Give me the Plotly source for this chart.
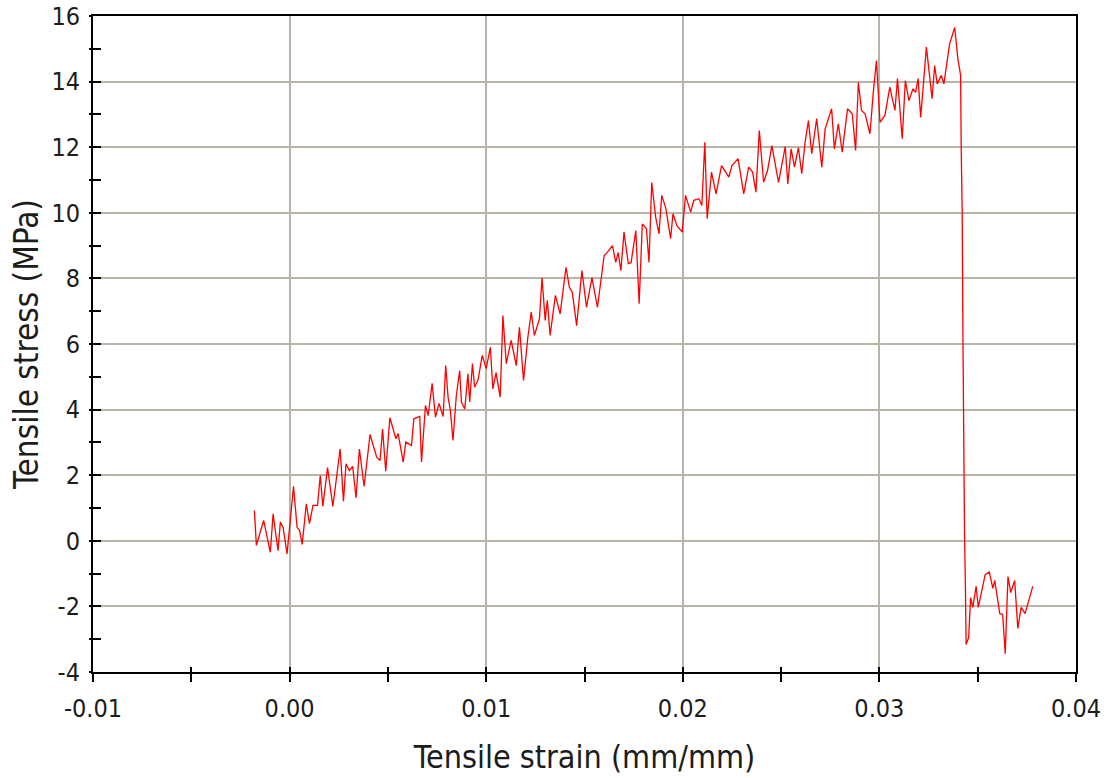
import plotly.graph_objects as go

strain = [
    -0.00179, -0.00169, -0.00132, -0.00098, -0.00084, -0.00059, -0.00047, -0.00033, -0.00013,
    0.00020, 0.00038, 0.00051, 0.00064, 0.00085, 0.00101, 0.00119, 0.00142, 0.00156, 0.00169,
    0.00193, 0.00220, 0.00257, 0.00274, 0.00287, 0.00304, 0.00321, 0.00338, 0.00355, 0.00379,
    0.00409, 0.00443, 0.00460, 0.00473, 0.00489, 0.00510, 0.00541, 0.00552, 0.00578, 0.00591,
    0.00620, 0.00632, 0.00662, 0.00671, 0.00691, 0.00705, 0.00725, 0.00742, 0.00760, 0.00781,
    0.00794, 0.00806, 0.00818, 0.00831, 0.00848, 0.00865, 0.00874, 0.00891, 0.00907, 0.00916,
    0.00930, 0.00941, 0.00958, 0.00980, 0.01000, 0.01021, 0.01034, 0.01050, 0.01071, 0.01085,
    0.01102, 0.01127, 0.01153, 0.01169, 0.01190, 0.01211, 0.01229, 0.01245, 0.01271, 0.01284,
    0.01300, 0.01311, 0.01325, 0.01352, 0.01376, 0.01406, 0.01423, 0.01438, 0.01460, 0.01487,
    0.01510, 0.01538, 0.01566, 0.01600, 0.01617, 0.01642, 0.01659, 0.01671, 0.01685, 0.01701,
    0.01723, 0.01737, 0.01761, 0.01778, 0.01794, 0.01815, 0.01828, 0.01842, 0.01862, 0.01879,
    0.01893, 0.01914, 0.01938, 0.01950, 0.01970, 0.01997, 0.02014, 0.02040, 0.02056, 0.02082,
    0.02097, 0.02112, 0.02124, 0.02146, 0.02169, 0.02197, 0.02217, 0.02234, 0.02250, 0.02281,
    0.02310, 0.02335, 0.02355, 0.02372, 0.02389, 0.02411, 0.02431, 0.02453, 0.02487, 0.02521,
    0.02534, 0.02551, 0.02568, 0.02588, 0.02605, 0.02622, 0.02639, 0.02656, 0.02681, 0.02707,
    0.02724, 0.02757, 0.02771, 0.02791, 0.02811, 0.02838, 0.02862, 0.02879, 0.02893, 0.02909,
    0.02927, 0.02952, 0.02969, 0.02985, 0.03003, 0.03028, 0.03053, 0.03079, 0.03092, 0.03116,
    0.03132, 0.03150, 0.03171, 0.03184, 0.03197, 0.03210, 0.03239, 0.03268, 0.03281, 0.03294,
    0.03315, 0.03328, 0.03357, 0.03383, 0.03399, 0.03413, 0.03416, 0.03421, 0.03425, 0.03428,
    0.03433, 0.03438, 0.03441, 0.03454, 0.03464, 0.03475, 0.03492, 0.03503, 0.03538, 0.03559,
    0.03577, 0.03587, 0.03612, 0.03627, 0.03640, 0.03654, 0.03668, 0.03688, 0.03704, 0.03721,
    0.03741, 0.03780,
]

stress = [
    0.92, -0.14, 0.62, -0.35, 0.82, -0.30, 0.57, 0.41, -0.40,
    1.66, 0.41, 0.31, -0.11, 1.13, 0.52, 1.08, 1.08, 1.99, 1.05,
    2.23, 1.05, 2.80, 1.21, 2.35, 2.14, 2.27, 1.31, 2.80, 1.66,
    3.24, 2.55, 2.45, 3.41, 2.12, 3.75, 3.11, 3.27, 2.40, 3.01,
    2.91, 3.72, 3.79, 2.40, 4.13, 3.82, 4.80, 3.77, 4.19, 3.79,
    5.34, 4.38, 3.97, 3.06, 4.43, 5.19, 4.23, 4.02, 5.09, 4.23,
    5.40, 4.68, 4.89, 5.65, 5.25, 5.90, 4.63, 5.13, 4.38, 6.87,
    5.40, 6.11, 5.34, 6.51, 4.89, 6.16, 6.97, 6.26, 6.77, 8.02,
    6.72, 7.33, 6.26, 7.48, 6.92, 8.34, 7.73, 7.57, 6.56, 8.24,
    7.12, 8.02, 7.12, 8.70, 8.80, 9.00, 8.49, 8.79, 8.24, 9.41,
    8.45, 8.48, 9.46, 7.23, 9.66, 9.51, 8.49, 10.92, 9.87, 9.36,
    10.53, 10.13, 9.21, 9.97, 9.61, 9.41, 10.53, 10.02, 10.38, 10.43,
    10.22, 12.15, 9.82, 11.24, 10.58, 11.44, 11.24, 11.09, 11.44, 11.65,
    10.58, 11.39, 11.24, 10.63, 12.51, 10.93, 11.29, 12.05, 10.93, 12.02,
    10.88, 11.95, 11.39, 11.99, 11.19, 12.15, 12.81, 11.80, 12.87, 11.39,
    12.56, 13.17, 11.95, 12.71, 11.85, 13.17, 13.02, 11.90, 13.98, 13.12,
    13.02, 12.41, 13.68, 14.64, 12.76, 12.97, 13.83, 13.12, 14.09, 12.26,
    14.03, 13.42, 13.78, 13.67, 14.09, 12.91, 15.05, 13.48, 14.49, 13.93,
    14.19, 13.93, 15.15, 15.65, 14.70, 14.19, 12.02, 10.10, 6.11, 2.27,
    0.22, -1.58, -3.16, -2.95, -1.73, -2.03, -1.39, -2.03, -1.03, -0.95,
    -1.45, -1.21, -2.22, -2.25, -3.44, -1.09, -1.58, -1.21, -2.67, -2.03,
    -2.22, -1.39,
]

x_major_ticks = [-0.01, 0.00, 0.01, 0.02, 0.03, 0.04]
x_tick_labels = ["-0.01", "0.00", "0.01", "0.02", "0.03", "0.04"]
y_major_ticks = [-4, -2, 0, 2, 4, 6, 8, 10, 12, 14, 16]
y_tick_labels = ["-4", "-2", "0", "2", "4", "6", "8", "10", "12", "14", "16"]

FONT = "DejaVu Sans Condensed, DejaVu Sans"
TXT = "#1c1c1c"
GRID = "#b8b4a8"

fig = go.Figure()
fig.add_trace(go.Scatter(x=strain, y=stress, mode="lines",
                         line=dict(color="#ff0000", width=1.3),
                         showlegend=False, hoverinfo="skip"))
fig.add_trace(go.Scatter(x=[None], y=[None], xaxis="x2", yaxis="y2",
                         showlegend=False, hoverinfo="skip"))

fig.update_layout(
    width=1111, height=778,
    margin=dict(l=93, r=35, t=16, b=106),
    paper_bgcolor="white", plot_bgcolor="white",
    font=dict(family=FONT, color=TXT),
    xaxis=dict(
        range=[-0.01, 0.04], tickvals=x_major_ticks, ticktext=x_tick_labels,
        showgrid=True, gridcolor=GRID, gridwidth=1.5,
        showline=True, linecolor="black", linewidth=2, mirror=True,
        ticks="outside", ticklen=8, tickcolor="black", tickwidth=1.5,
        minor=dict(dtick=0.005, tick0=0, ticks="outside", ticklen=8,
                   tickcolor="black", tickwidth=1.5, showgrid=False),
        tickfont=dict(size=25, family=FONT, color=TXT),
        ticklabelstandoff=5,
        zeroline=False,
        title=dict(text="Tensile strain (mm/mm)", font=dict(size=32, family=FONT, color=TXT),
                   standoff=24),
        automargin=False,
    ),
    yaxis=dict(
        range=[-4, 16], tickvals=y_major_ticks, ticktext=y_tick_labels,
        showgrid=True, gridcolor=GRID, gridwidth=1.5,
        showline=True, linecolor="black", linewidth=2, mirror=True,
        ticks="inside", ticklen=8, tickcolor="black", tickwidth=1.5,
        minor=dict(dtick=1, tick0=0, ticks="inside", ticklen=8,
                   tickcolor="black", tickwidth=1.5, showgrid=False),
        tickfont=dict(size=25, family=FONT, color=TXT),
        ticklabelstandoff=6,
        zeroline=False,
        title=dict(text="Tensile stress (MPa)", font=dict(size=33, family=FONT, color=TXT),
                   standoff=3),
        automargin=False,
    ),
    xaxis2=dict(
        range=[-0.01, 0.04], overlaying="x", anchor="y", side="bottom",
        dtick=0.005, tick0=0, ticks="inside", ticklen=5, tickcolor="black", tickwidth=1.5,
        showticklabels=False, showgrid=False, showline=False, zeroline=False,
    ),
    yaxis2=dict(
        range=[-4, 16], overlaying="y", anchor="x", side="left",
        dtick=1, tick0=0, ticks="outside", ticklen=3, tickcolor="black", tickwidth=1.5,
        showticklabels=False, showgrid=False, showline=False, zeroline=False,
    ),
)

fig.write_html("out.html")
